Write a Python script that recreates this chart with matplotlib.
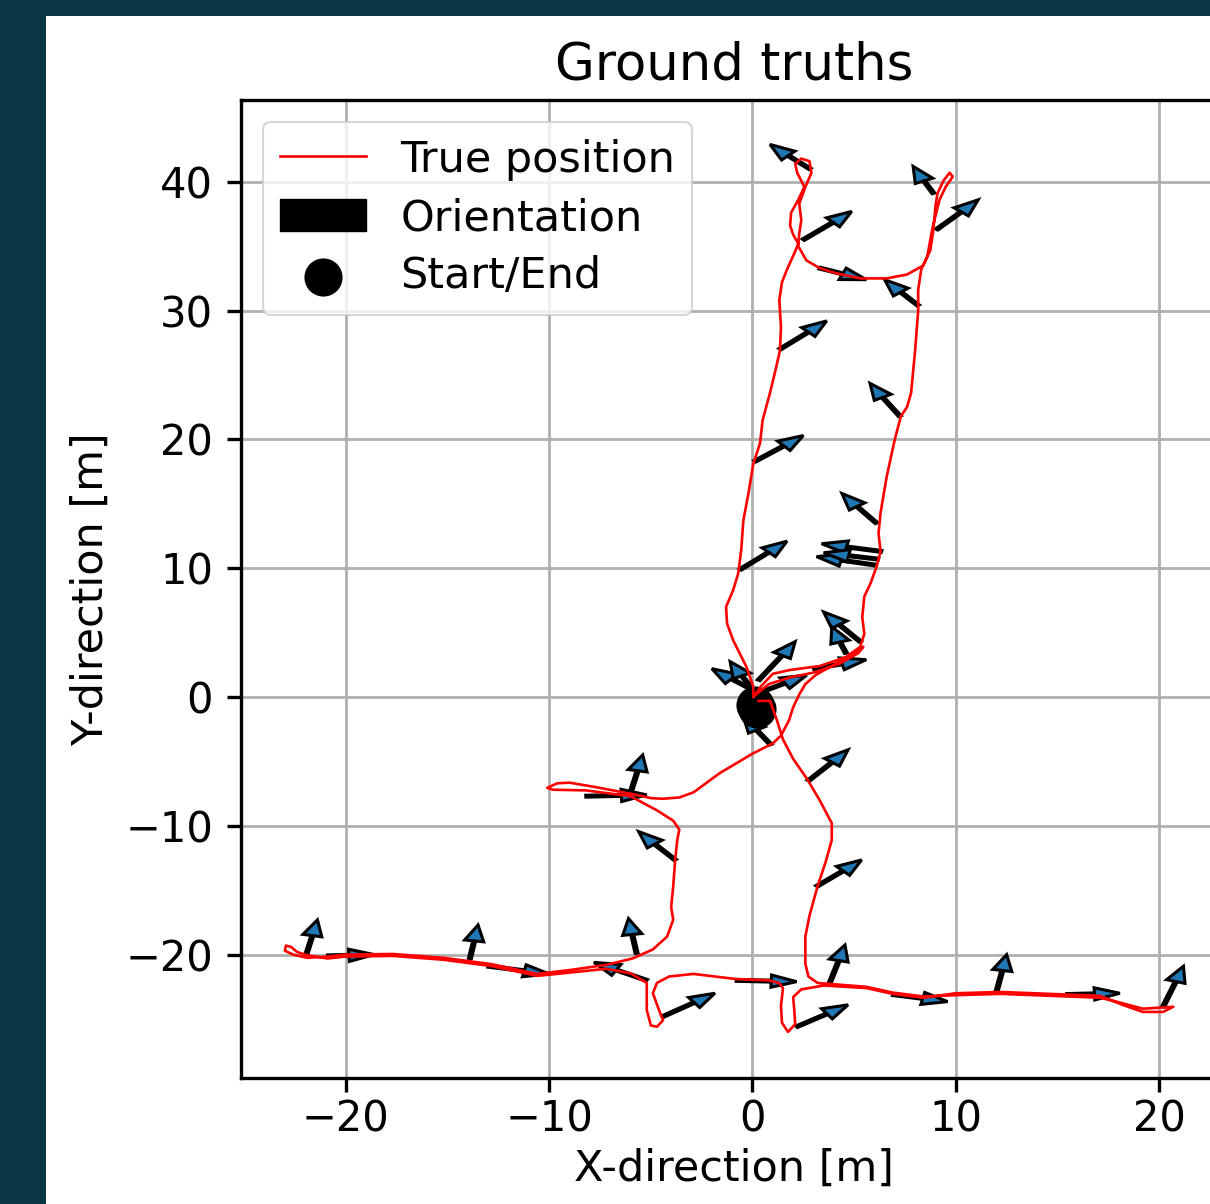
import matplotlib
matplotlib.use("Agg")
import matplotlib.pyplot as plt
from matplotlib.patches import Patch, Rectangle

# ---- data: trajectory (ground truth positions) ----
path_x = [0.05, 0.04, -0.3, -0.95, -1.25, -1.3, -0.95, -0.7, -0.55, -0.45, -0.2, 0.04, 0.37, 0.5, 0.86, 1.15,
          1.35, 1.4, 1.32, 1.45, 1.7, 2.1, 2.25, 2.0, 1.85, 1.9, 2.25, 2.55, 2.2, 2.1, 2.4, 2.8, 2.9, 2.6, 2.3,
          2.4, 2.3, 2.25, 2.65, 3.3, 4.1, 5.3, 6.6, 7.6, 8.4, 8.75, 8.9, 9.0, 9.1, 9.4, 9.7, 9.85, 9.5, 9.2,
          8.85, 8.6, 8.3, 8.15, 8.15, 8.0, 7.8, 7.6, 7.3, 7.0, 6.6, 6.3, 6.2, 6.3, 6.1, 5.8, 5.5, 5.4, 5.5,
          5.3, 4.6, 3.3, 1.85, 1.0, 0.4, 0.1,
          0.8, 1.8, 3.0, 4.3, 5.2, 5.45,
          5.0, 4.0, 3.1, 2.6, 2.3, 2.0, 1.8, 1.4, 1.0, 0.0, -1.6, -2.9, -3.6, -4.4, -5.0, -5.7, -7.7, -9.0,
          -9.6, -10.1, -9.8, -8.2, -6.0, -4.7, -3.9, -3.6, -3.7, -3.8, -3.9, -4.0, -3.9, -4.2, -4.9, -5.9,
          -7.2, -9.0, -10.6, -12.8, -15.2, -17.7, -20.0, -20.9, -21.9, -22.6, -23.0, -22.95, -22.7, -22.4,
          -21.9, -20.9, -20.0, -17.7, -15.2, -12.8, -10.6, -9.0, -7.2, -6.0, -5.2, -5.2, -5.0, -4.7, -4.4,
          -4.6, -4.9, -4.7, -4.1, -2.9, -0.8, 0.8, 1.3, 1.5, 1.4, 1.45, 1.75, 2.1, 2.05, 2.0, 2.4, 3.5, 5.6,
          6.9, 8.4, 10.0, 12.2, 14.6, 17.1, 18.2, 19.2, 20.2, 20.7, 20.2, 19.2, 17.9, 17.1, 14.6, 12.2, 10.0,
          8.4, 6.9, 5.6, 4.0, 3.2, 2.75, 2.6, 2.6, 2.8, 3.2, 3.6, 3.9, 3.9, 3.3, 2.7, 2.0, 1.5, 1.2, 0.86, 0.3]
path_y = [0.0, 0.8, 2.35, 4.4, 5.7, 7.0, 8.3, 9.6, 11.5, 13.7, 15.8, 18.1, 19.7, 21.5, 23.6, 25.5,
          26.9, 28.7, 30.8, 32.2, 33.2, 34.6, 35.2, 35.9, 36.6, 37.6, 38.6, 39.6, 40.7, 41.4, 41.8, 41.6,
          40.7, 39.6, 38.3, 37.0, 36.0, 35.0, 33.9, 33.3, 32.9, 32.5, 32.5, 32.8, 33.5, 34.7, 36.3, 38.1,
          39.1, 40.1, 40.7, 40.4, 39.6, 38.6, 36.4, 34.2, 33.2, 31.6, 30.0, 26.9, 23.6, 22.5, 21.8, 20.0,
          17.1, 14.3, 12.7, 11.3, 10.1, 8.8, 7.8, 6.2, 4.9,
          3.9, 3.1, 2.4, 2.1, 1.8, 0.8, 0.1,
          1.0, 1.5, 1.9, 2.6, 3.4, 3.9,
          3.4, 2.5, 1.7, 1.0, 0.2, -0.8, -1.8, -3.0, -3.6, -4.4, -5.9, -7.4, -7.8, -7.9, -7.85, -7.6, -7.0,
          -6.65, -6.7, -7.05, -7.2, -7.25, -7.7, -8.8, -9.6, -10.3, -11.1, -12.6, -14.7, -16.3, -17.3,
          -18.6, -19.6, -20.3, -20.8, -21.2, -21.5, -20.75, -20.25, -19.95, -20.0, -20.15, -20.25, -20.0,
          -19.7, -19.3, -19.4, -19.8, -20.05, -20.3, -20.15, -20.1, -20.4, -20.9, -21.65, -21.4, -21.1,
          -21.45, -22.2, -24.3, -25.5, -25.6, -25.1, -24.3, -23.0, -22.2, -21.7, -21.5, -21.9, -22.0, -22.2,
          -22.6, -24.0, -25.3, -26.0, -25.4, -24.2, -23.3, -22.7, -22.4, -22.6, -23.05, -23.35, -23.0,
          -22.9, -23.05, -23.2, -23.9, -24.45, -24.45, -24.05, -24.1, -24.2, -23.65, -23.35, -23.2, -23.05,
          -23.15, -23.25, -22.95, -22.5, -22.3, -22.2, -21.7, -20.7, -18.6, -17.0, -14.7, -12.8, -11.1,
          -9.8, -8.0, -6.4, -4.8, -3.3, -1.8, -0.3, -0.3]

# ---- data: orientation arrows (tail position and vector to tip) ----
arrow_x = [2.83, 2.5, 3.3, 8.15, 8.9, 9.06, 1.35, 7.25, 0.12, 6.1, 6.35, 6.0, 6.2, -0.6, 5.3, 4.6,
           3.0, 0.3, 0.2, 0.04, 0.7, 0.9, 2.75, -5.95, -8.2, -3.8, -5.7, -5.2, -4.4, -0.8, 3.8, 2.17,
           -13.0, -21.95, -20.9, -13.9, 3.16, 6.9, 12.0, 15.45, 20.2]
arrow_y = [41.0, 35.5, 33.3, 30.4, 39.1, 36.3, 27.0, 21.8, 18.3, 13.5, 11.3, 10.25, 10.7, 9.9, 4.3, 3.4,
           2.2, 1.3, 0.4, 0.55, 0.55, -3.7, -6.5, -7.2, -7.7, -12.65, -19.9, -22.0, -24.8, -22.0, -22.2,
           -25.6, -20.9, -20.0, -20.1, -20.3, -14.7, -23.1, -22.9, -23.1, -24.05]
arrow_dx = [-1.97, 2.38, 2.3, -1.65, -1.0, 2.04, 2.3, -1.47, 2.38, -1.7, -2.95, -2.85, -2.7, 2.3, -1.8,
            -0.7, 2.6, 1.8, -2.2, -1.14, 1.97, -1.35, 1.95, 0.55, 3.0, -1.8, -0.4, -2.6, 2.55, 2.97, 0.75,
            2.53, 3.0, 0.55, 2.3, 0.4, 2.21, 2.7, 0.5, 2.62, 1.0]
arrow_dy = [1.9, 2.2, -0.9, 2.0, 2.1, 2.3, 2.2, 2.55, 2.0, 2.3, 0.6, 0.65, 0.5, 2.2, 2.3, 2.05, 0.7, 3.0,
            1.8, 2.2, 1.15, 2.2, 2.4, 2.7, 0.1, 2.2, 2.7, 1.4, 1.8, -0.1, 2.95, 1.7, -0.6, 2.7, 0.1, 2.6,
            2.05, -0.55, 2.9, 0.1, 3.15]

# ---- data: start / end markers ----
start_end_x = [0.1, 0.2]
start_end_y = [-0.6, -0.9]

xticks = [-20, -10, 0, 10, 20]
yticks = [-20, -10, 0, 10, 20, 30, 40]

fig = plt.figure(figsize=(12.10, 12.04), dpi=100)
fig.patch.set_facecolor("#0b3646")
fig.add_artist(Rectangle((46 / 1210, 0), 1 - 46 / 1210, 1 - 16 / 1204, transform=fig.transFigure,
                         facecolor="white", edgecolor="none", zorder=0))

ax = fig.add_axes([241 / 1210, 1 - 1078 / 1204, 987 / 1210, 978 / 1204])
ax.set_axisbelow(True)
ax.grid(True, color="#b0b0b0", linewidth=2.0)

line, = ax.plot(path_x, path_y, color="red", linewidth=1.9, label="True position", zorder=2)

for x, y, dx, dy in zip(arrow_x, arrow_y, arrow_dx, arrow_dy):
    ax.arrow(x, y, dx, dy, width=0.15, head_width=0.95, head_length=1.25, length_includes_head=True,
             facecolor="#1f77b4", edgecolor="black", linewidth=2.2, zorder=1)

sc = ax.scatter(start_end_x, start_end_y, s=700, color="black", zorder=1.2, label="Start/End")

ax.set_xlim(-25.16, 23.39)
ax.set_ylim(-29.58, 46.35)
ax.set_xticks(xticks)
ax.set_yticks(yticks)
ax.tick_params(labelsize=30, length=10, width=2.4)
ax.tick_params(axis="x", pad=5)
ax.tick_params(axis="y", pad=10)
for s in ax.spines.values():
    s.set_linewidth(2.4)

ax.set_title("Ground truths", fontsize=37, pad=15)
ax.set_xlabel("X-direction [m]", fontsize=31, labelpad=5)
ax.set_ylabel("Y-direction [m]", fontsize=31, labelpad=10)

orient = Patch(facecolor="black", edgecolor="black", label="Orientation")
leg = ax.legend(handles=[line, orient, sc], labels=["True position", "Orientation", "Start/End"],
                loc="upper left", fontsize=31, labelspacing=0.38, handleheight=0.75)
leg.get_frame().set_linewidth(1.5)

fig.savefig("out.png", dpi=100, facecolor=fig.get_facecolor())
